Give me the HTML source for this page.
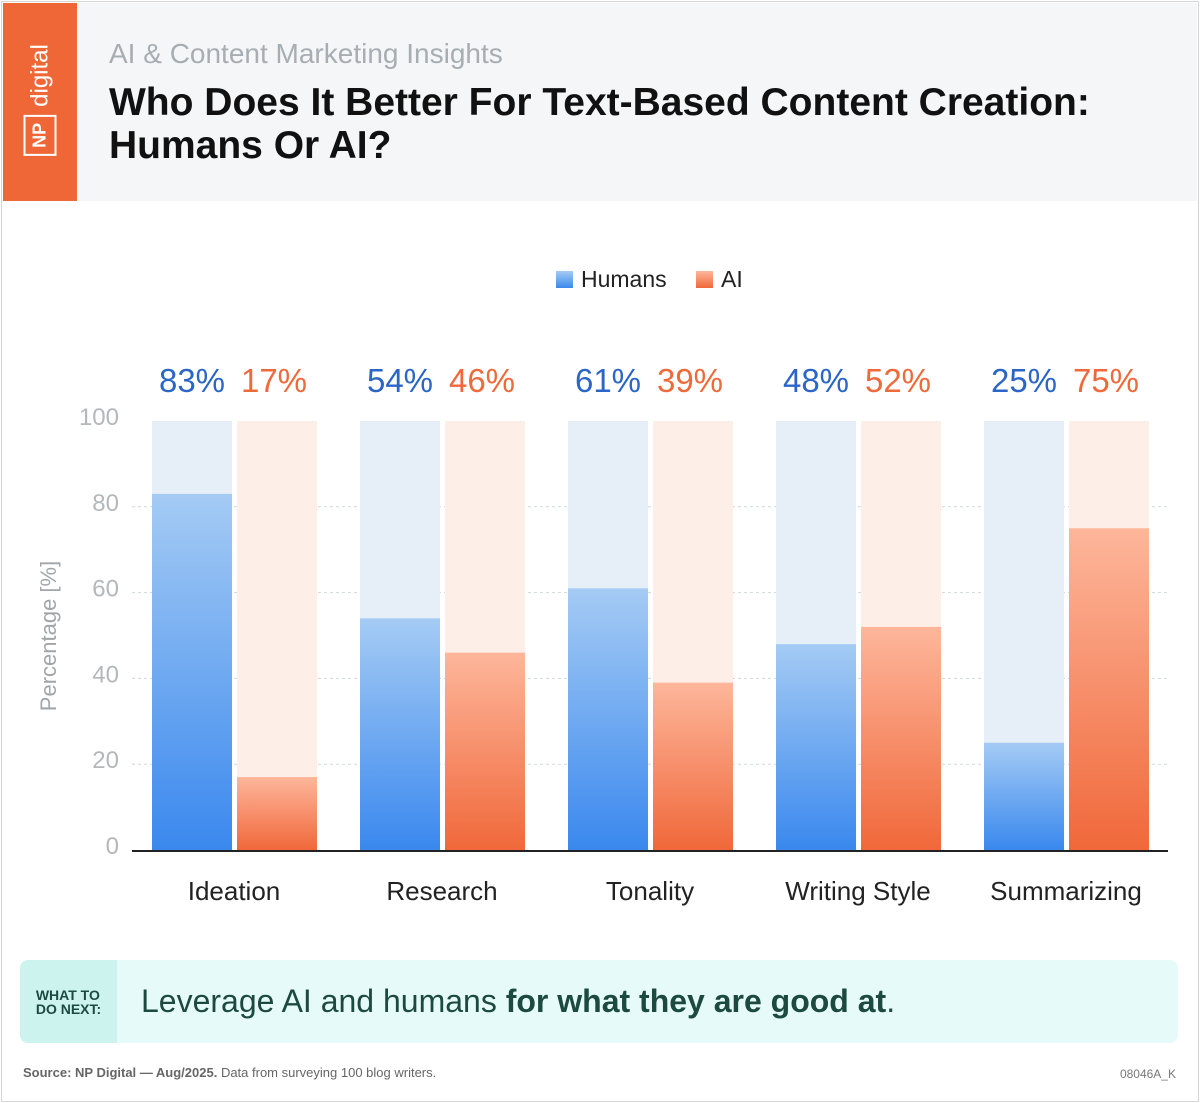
<!DOCTYPE html>
<html><head><meta charset="utf-8">
<style>
body{margin:0;width:1200px;height:1103px;background:#fff;font-family:"Liberation Sans",sans-serif;overflow:hidden}
#frame{position:absolute;left:1px;top:1px;width:1196px;height:1099px;border:1px solid #d6d6d6}
</style></head><body>
<div id="frame"></div>
<div style="position:absolute;left:3px;top:3px;width:1194px;height:198px;background:#f5f6f8"></div>
<div style="position:absolute;left:3px;top:3px;width:74px;height:198px;background:#ef6736"></div>
<div style="position:absolute;left:40px;top:100px;transform:translate(-50%,-50%) rotate(-90deg);color:#fff;font-size:24px;white-space:nowrap;display:flex;align-items:center;gap:8px"><span style="border:2px solid #fff;padding:4px 6px;font-weight:bold;font-size:18px">NP</span><span>digital</span></div>
<div style="position:absolute;left:109px;top:38px;font-size:28px;color:#a6adb3">AI &amp; Content Marketing Insights</div>
<div style="position:absolute;left:109px;top:81px;font-size:39px;line-height:43px;font-weight:bold;color:#111">Who Does It Better For Text-Based Content Creation:<br>Humans Or AI?</div>

<svg id="chart" width="1200" height="1103" style="position:absolute;left:0;top:0">
<defs>
<linearGradient id="gb" x1="0" y1="0" x2="0" y2="1"><stop offset="0" stop-color="#a5cbf4"/><stop offset="1" stop-color="#3a88ee"/></linearGradient>
<linearGradient id="go" x1="0" y1="0" x2="0" y2="1"><stop offset="0" stop-color="#fdb69b"/><stop offset="1" stop-color="#f0683a"/></linearGradient>
</defs>
</svg>

<div style="position:absolute;left:20px;top:960px;width:1158px;height:83px;background:#e6fbf9;border-radius:8px;overflow:hidden">
<div style="position:absolute;left:0;top:0;width:97px;height:83px;background:#cdf3ef;color:#1c4a40;font-weight:bold;font-size:14px;line-height:14px;display:flex;align-items:center;justify-content:center;text-align:left"><div>WHAT TO<br>DO NEXT:</div></div>
<div style="position:absolute;left:121px;top:23px;font-size:32px;color:#1c4a40">Leverage AI and humans <b>for what they are good at</b>.</div>
</div>
<div style="position:absolute;left:23px;top:1065px;font-size:13px;color:#666"><b>Source: NP Digital — Aug/2025.</b> Data from surveying 100 blog writers.</div>
<div style="position:absolute;right:24px;top:1067px;font-size:12px;color:#777">08046A_K</div>

<script>
const categories=["Ideation","Research","Tonality","Writing Style","Summarizing"];
const humans=[83,54,61,48,25];
const ai=[17,46,39,52,75];
const yTicks=[0,20,40,60,80,100];
const NS="http://www.w3.org/2000/svg";
const svg=document.getElementById('chart');
const y0=850,y100=421,xL=132,xR=1168;
const y=v=>y0-(v/100)*(y0-y100);
const gx=i=>152+i*208;
function mk(t,a){const e=document.createElementNS(NS,t);for(const k in a)e.setAttribute(k,a[k]);svg.appendChild(e);return e;}
yTicks.forEach(t=>{
  if(t>0&&t<100){const l=mk('line',{x1:xL,x2:xR,y1:y(t),y2:y(t),stroke:'#cfd8dc','stroke-dasharray':'3,3'});
  
  }
  const tx=mk('text',{x:119,y:y(t)+4,'text-anchor':'end','font-size':24,fill:'#b3b8bc'});
  tx.textContent=t;
  
  
});
categories.forEach((c,i)=>{
  const x=gx(i);
  const bb=mk('rect',{x:x,y:y(100),width:80,height:y0-y(100),fill:'#e6eef8'});
  
  
  const ob=mk('rect',{x:x+85,y:y(100),width:80,height:y0-y(100),fill:'#fdeee8'});
  
  
  const b=mk('rect',{x:x,y:y(humans[i]),width:80,height:y0-y(humans[i]),fill:'url(#gb)'});
  
  
  const o=mk('rect',{x:x+85,y:y(ai[i]),width:80,height:y0-y(ai[i]),fill:'url(#go)'});
  
  
  const h=mk('text',{x:x+40,y:392,'text-anchor':'middle','font-size':33,fill:'#2b66c6'});
  h.textContent=humans[i]+'%';
  
  
  const a=mk('text',{x:x+122,y:392,'text-anchor':'middle','font-size':33,fill:'#ee6a3a'});
  a.textContent=ai[i]+'%';
  
  
  const cl=mk('text',{x:x+82,y:900,'text-anchor':'middle','font-size':26,fill:'#222'});
  cl.textContent=c;
  
  
});
const ax=mk('line',{x1:xL,x2:xR,y1:y0+1,y2:y0+1,stroke:'#222','stroke-width':2});


const yt=mk('text',{x:56,y:636,'text-anchor':'middle','font-size':22,fill:'#a0a6aa',transform:'rotate(-90 56 636)'});
yt.textContent='Percentage [%]';


const l1=mk('rect',{x:556,y:271,width:17,height:17,fill:'url(#gb)'});


const t1=mk('text',{x:581,y:287,'font-size':23,fill:'#222'});t1.textContent='Humans';


const l2=mk('rect',{x:696,y:271,width:17,height:17,fill:'url(#go)'});


const t2=mk('text',{x:721,y:287,'font-size':23,fill:'#222'});t2.textContent='AI';


</script>
</body></html>
